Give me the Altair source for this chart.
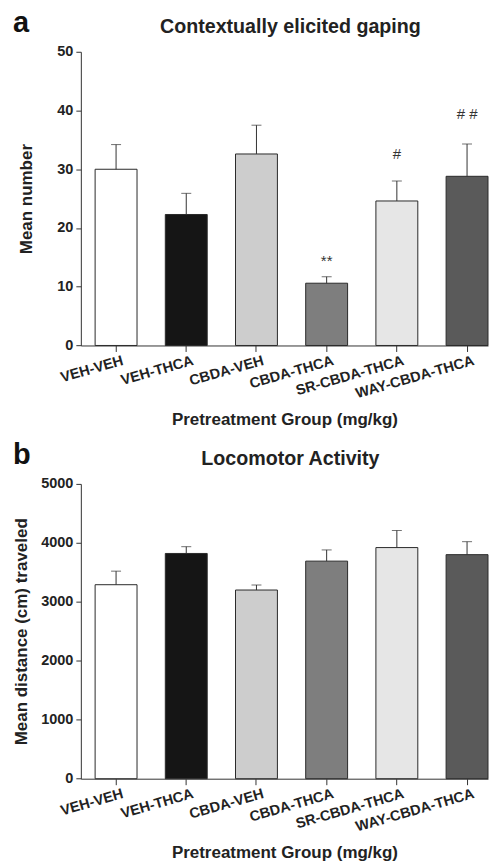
import altair as alt
import pandas as pd

groups = ["VEH-VEH", "VEH-THCA", "CBDA-VEH", "CBDA-THCA", "SR-CBDA-THCA", "WAY-CBDA-THCA"]
bar_colors = ["#ffffff", "#151515", "#cdcdcd", "#7e7e7e", "#e6e6e6", "#5a5a5a"]

gaping_mean = [30.0, 22.3, 32.6, 10.6, 24.6, 28.8]
gaping_upper = [34.2, 25.9, 37.5, 11.7, 28.0, 34.3]
gaping_marks = ["", "", "", "**", "#", "# #"]
gaping_mark_y = [0, 0, 0, 13.5, 31.8, 38.5]

loco_mean = [3290, 3820, 3200, 3690, 3920, 3800]
loco_upper = [3520, 3935, 3285, 3880, 4210, 4020]

FONT = "Liberation Sans"
INK = "#222222"


def panel(mean, upper, ymax, yvals, ytitle, title, letter, height, title_pad,
          marks=None, mark_y=None):
    df = pd.DataFrame({"group": groups, "mean": mean, "upper": upper})
    xenc = alt.X(
        "group:N", sort=groups,
        scale=alt.Scale(paddingInner=0.403, paddingOuter=0.1017, align=1),
        axis=alt.Axis(
            title="Pretreatment Group (mg/kg)", labelAngle=344, labelAlign="right",
            labelBaseline="top", labelOffset=5, labelPadding=2, tickSize=6,
            labelFontSize=14.5, titleFontSize=17, titlePadding=11, labelLimit=300,
        ),
    )
    yaxis = alt.Axis(values=yvals, format="d", tickSize=5, labelPadding=3, labelFontSize=14.5,
                     titleFontSize=17, titlePadding=title_pad, grid=False, title=ytitle)
    yscale = alt.Scale(domain=[0, ymax], nice=False, zero=True)

    bars = alt.Chart(df).mark_bar(stroke="#2a2a2a", strokeWidth=1).encode(
        x=xenc,
        y=alt.Y("mean:Q", scale=yscale, axis=yaxis, title=ytitle),
        color=alt.Color("group:N", scale=alt.Scale(domain=groups, range=bar_colors), legend=None),
    )
    err = alt.Chart(df).mark_rule(color="#333333", strokeWidth=1).encode(
        x=xenc,
        y=alt.Y("mean:Q", scale=yscale, axis=yaxis, title=ytitle),
        y2="upper:Q",
    )
    cap = alt.Chart(df).mark_tick(color="#333333", size=10, thickness=1).encode(
        x=xenc,
        y=alt.Y("upper:Q", scale=yscale, axis=yaxis, title=ytitle),
    )
    head_df = pd.DataFrame({"letter": [letter], "title": [title]})
    let = alt.Chart(head_df).mark_text(
        font=FONT, fontWeight="bold", fontSize=29, align="left", baseline="alphabetic", color="#111111"
    ).encode(x=alt.value(-68), y=alt.value(-20), text="letter:N")
    ttl = alt.Chart(head_df).mark_text(
        font=FONT, fontWeight="bold", fontSize=19.7, align="center", baseline="alphabetic", color=INK
    ).encode(x=alt.value(210), y=alt.value(-18.5), text="title:N")
    layers = [bars, err, cap]
    if marks is not None:
        mdf = pd.DataFrame({"group": groups, "mark": marks, "my": mark_y})
        mdf = mdf[mdf["mark"] != ""]
        ann = alt.Chart(mdf).mark_text(
            font=FONT, fontSize=15, color="#333333", baseline="alphabetic", align="center"
        ).encode(
            x=xenc,
            y=alt.Y("my:Q", scale=yscale, axis=yaxis, title=ytitle),
            text="mark:N",
        )
        layers.append(ann)
    layers += [let, ttl]
    return alt.layer(*layers).properties(width=408, height=height)


pa = panel(gaping_mean, gaping_upper, 50, [0, 10, 20, 30, 40, 50], "Mean number",
           "Contextually elicited gaping", "a", 294.3, 21, gaping_marks, gaping_mark_y)
pb = panel(loco_mean, loco_upper, 5000, [0, 1000, 2000, 3000, 4000, 5000],
           "Mean distance (cm) traveled", "Locomotor Activity", "b", 295.4, 10)

chart = alt.vconcat(pa, pb, spacing=138, bounds="flush").properties(
    padding={"left": 12, "top": 8, "right": 0, "bottom": 0},
    background="white",
).configure_view(stroke=None).configure_axis(
    labelFont=FONT, titleFont=FONT, labelFontWeight="bold", titleFontWeight="bold",
    labelColor=INK, titleColor=INK, domainColor="#333333", tickColor="#333333",
    domainWidth=1, tickWidth=1,
)

chart.save("out.html", embed_options={"renderer": "svg", "actions": False})
